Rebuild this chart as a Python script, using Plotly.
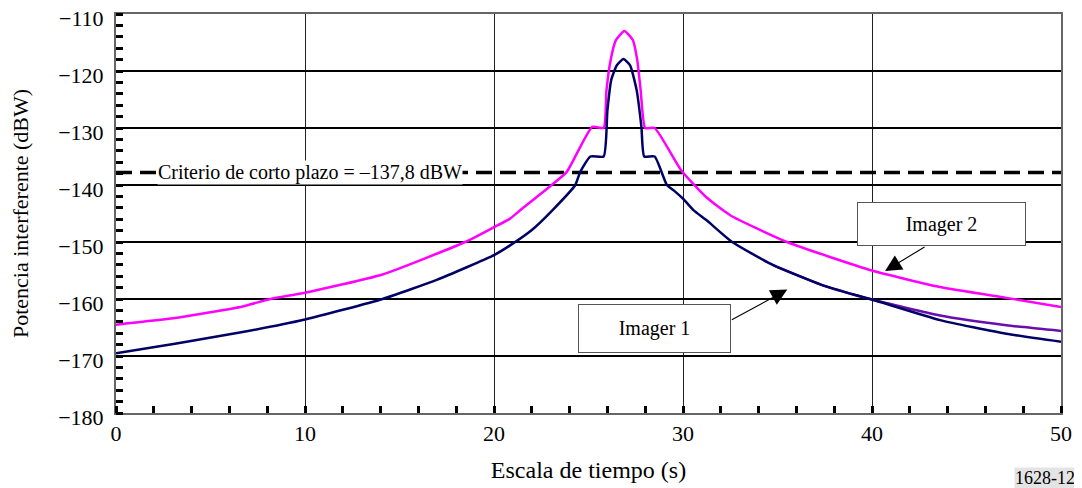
import plotly.graph_objects as go

# Imager 1 (azul marino)
t_img1 = [0, 3.2, 6.7, 10, 14.1, 17, 20, 20.85, 22, 23.1, 24.3, 24.55, 25.1, 25.8,
          26.0, 26.2, 26.5, 26.85, 27.2, 27.55, 27.8, 27.95, 28.5, 29.15, 29.6, 30.0,
          30.55, 31.25, 32.6, 34.8, 37.4, 40, 43.6, 47.1, 50]
p_img1 = [-169.5, -167.8, -165.8, -163.6, -160.0, -156.6, -152.3, -150.6, -147.9, -144.4,
          -140.0, -137.8, -135.0, -135.0, -126.9, -121.6, -119.0, -117.9, -119.0, -123.4,
          -129.8, -135.0, -135.0, -140.0, -141.2, -142.4, -144.4, -146.2, -150.0, -154.1,
          -157.6, -160.1, -163.7, -166.1, -167.5]

# Imager 1, otra variante (violeta), visible solo al final
t_img1b = [34.8, 37.4, 40, 43.6, 47.1, 50]
p_img1b = [-154.1, -157.6, -160.1, -162.9, -164.6, -165.6]

# Imager 2 (magenta)
t_img2 = [0, 3.2, 6.7, 8.17, 10, 14.1, 18.47, 20, 20.85, 21.4, 23.05, 23.85, 25.2, 25.8,
          25.95, 26.17, 26.45, 26.9, 27.35, 27.58, 27.76, 28.0, 28.5, 29.9, 31.25, 32.5,
          35.5, 40, 43.6, 47.1, 50]
p_img2 = [-164.5, -163.3, -161.3, -160.0, -158.9, -155.7, -150.0, -147.4, -145.9, -144.4,
          -140.0, -137.7, -129.8, -130.0, -123.4, -118.1, -114.6, -113.0, -114.6, -118.1,
          -123.4, -130.0, -130.0, -137.4, -142.2, -145.3, -150.0, -155.0, -157.9, -159.8,
          -161.4]

criterio = -137.8
x_ticks = [0, 10, 20, 30, 40, 50]
y_ticks = [-110, -120, -130, -140, -150, -160, -170, -180]

FONT = "Liberation Serif, Times New Roman, serif"

fig = go.Figure()

fig.add_trace(go.Scatter(x=[0, 50], y=[criterio, criterio], mode="lines",
                         line=dict(color="black", width=3.5, dash="16px,8px")))
fig.add_trace(go.Scatter(x=t_img1b, y=p_img1b, mode="lines",
                         line=dict(color="#6a0dad", width=2.5, shape="spline", smoothing=0.5)))
fig.add_trace(go.Scatter(x=t_img2, y=p_img2, mode="lines",
                         line=dict(color="#ff00ff", width=2.5, shape="spline", smoothing=0.5)))
fig.add_trace(go.Scatter(x=t_img1, y=p_img1, mode="lines",
                         line=dict(color="#000066", width=2.5, shape="spline", smoothing=0.5)))

# etiqueta del criterio
fig.add_annotation(x=10.26, y=criterio, text="Criterio de corto plazo = –137,8 dBW",
                   showarrow=False, bgcolor="white", borderpad=0,
                   font=dict(family=FONT, size=20, color="black"))

# cajas de leyenda
fig.add_annotation(x=43.7, y=-146.84, text="Imager 2", showarrow=False,
                   bgcolor="white", bordercolor="#555555", borderwidth=1, borderpad=0,
                   width=167, height=42, font=dict(family=FONT, size=20, color="black"))
fig.add_annotation(x=28.48, y=-165.26, text="Imager 1", showarrow=False,
                   bgcolor="white", bordercolor="#555555", borderwidth=1, borderpad=0,
                   width=151, height=47, font=dict(family=FONT, size=20, color="black"))

# flechas
fig.add_annotation(x=40.69, y=-155.09, ax=41, ay=-25, text="", showarrow=True,
                   arrowhead=2, arrowsize=3, arrowwidth=1.1, arrowcolor="black")
fig.add_annotation(x=35.52, y=-158.35, ax=-57, ay=31, text="", showarrow=True,
                   arrowhead=2, arrowsize=3, arrowwidth=1.1, arrowcolor="black")

fig.add_annotation(xref="paper", yref="paper", x=1.0159, y=-0.135, xanchor="right",
                   yanchor="top", text="1628-12", showarrow=False, bgcolor="#e4e4e4",
                   borderpad=0, font=dict(family=FONT, size=18, color="black"))

# la página añade 8 px de margen: el lienzo es 8 px menor
fig.update_layout(
    width=1074, height=480,
    margin=dict(l=108, r=21, t=6, b=75),
    paper_bgcolor="white", plot_bgcolor="white",
    showlegend=False,
    font=dict(family=FONT, size=20, color="black"),
)

fig.update_xaxes(
    range=[0, 50], tickvals=x_ticks, showgrid=True, gridcolor="#222222", gridwidth=1,
    zeroline=False, showline=True, linecolor="#666666", linewidth=2, mirror=True,
    ticks="", tickfont=dict(size=22), automargin=False, ticklabeloverflow="allow",
    minor=dict(dtick=2, ticks="inside", ticklen=7, tickwidth=3, tickcolor="black",
               showgrid=False),
    title=dict(text="Escala de tiempo (s)", font=dict(size=24), standoff=16),
)
fig.update_yaxes(
    range=[-180, -110], tickvals=y_ticks, showgrid=True, gridcolor="black", gridwidth=2,
    zeroline=False, showline=True, linecolor="#666666", linewidth=2, mirror=True,
    ticks="", tickfont=dict(size=22), ticklabelstandoff=6, automargin=False,
    ticklabeloverflow="allow", ticklabelshift=4,
    minor=dict(dtick=2, ticks="inside", ticklen=7, tickwidth=3, tickcolor="black",
               showgrid=False),
    title=dict(text="Potencia interferente (dBW)", font=dict(size=22), standoff=24),
)

fig.write_html("out.html")
